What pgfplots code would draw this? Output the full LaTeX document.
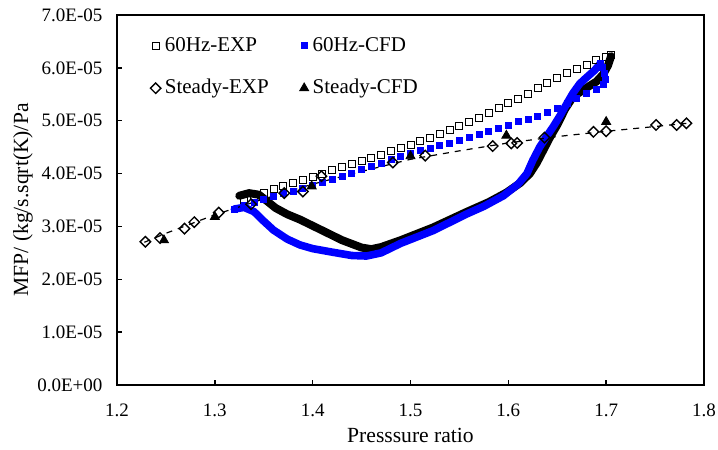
\documentclass[border=0pt]{standalone}
\usepackage{fontspec}
\setmainfont{Liberation Serif}
\usepackage{pgfplots}
\pgfplotsset{compat=1.18}
\begin{document}
\begin{tikzpicture}
\begin{axis}[
  scale only axis, width=293.5pt, height=185pt,
  xmin=1.2, xmax=1.8, ymin=0, ymax=7,
  xtick={1.2,1.3,1.4,1.5,1.6,1.7,1.8},
  xticklabels={1.2,1.3,1.4,1.5,1.6,1.7,1.8},
  ytick={0,1,2,3,4,5,6,7},
  yticklabels={0.0E+00,1.0E-05,2.0E-05,3.0E-05,4.0E-05,5.0E-05,6.0E-05,7.0E-05},
  tick pos=left, tick align=inside, major tick length=2.5pt,
  axis line style={line width=0.7pt},
  every tick/.style={black, line width=0.7pt},
  tick label style={font=\fontsize{9.5}{11}\selectfont},
  xticklabel style={yshift=-6pt},
  yticklabel style={xshift=-3.8pt},
  xlabel={Presssure ratio}, ylabel={MFP/ (kg/s.sqrt(K)/Pa},
  every axis x label/.style={at={(axis description cs:0.5,0)}, yshift=-25pt, anchor=center, font=\fontsize{10.8}{13}\selectfont},
  every axis y label/.style={at={(axis description cs:0,0.5)}, xshift=-47pt, rotate=90, anchor=center, font=\fontsize{10.8}{13}\selectfont},
  legend columns=2, legend cell align=left,
  legend image code/.code={\draw[#1] plot coordinates {(0pt,0pt)};},
  legend style={draw=none, fill=none, at={(rel axis cs:0,1)}, anchor=north west,
    xshift=16.5pt, yshift=-9pt, inner sep=0pt, row sep=8.5pt,
    font=\fontsize{10.5}{12}\selectfont,
    /tikz/every even column/.append style={column sep=13.5pt}},
]
\coordinate (ll) at (rel axis cs:0,0);
\coordinate (ur) at (rel axis cs:1,1);

% 60Hz-EXP lower (dense) branch
\addplot[black, line width=4pt, line join=round, line cap=round, forget plot] coordinates {
(1.705,6.22)(1.702,6.05)(1.697,5.88)(1.690,5.74)(1.678,5.60)(1.666,5.45)(1.658,5.22)
(1.650,4.92)(1.643,4.70)(1.636,4.45)(1.629,4.20)(1.622,4.00)(1.612,3.82)(1.598,3.64)
(1.580,3.46)(1.558,3.28)(1.523,2.98)(1.490,2.74)(1.470,2.61)(1.460,2.57)(1.450,2.60)
(1.430,2.74)(1.408,2.94)(1.387,3.13)(1.374,3.23)(1.362,3.35)(1.352,3.50)(1.345,3.60)
(1.335,3.63)(1.325,3.58)};
% 60Hz-EXP upper branch
\addplot[black, only marks, mark=square, mark size=1.75pt, mark options={line width=0.5pt}] coordinates {
(1.33,3.50)(1.34,3.57)(1.35,3.64)(1.36,3.70)(1.37,3.76)(1.38,3.82)(1.39,3.88)(1.40,3.94)
(1.41,4.00)(1.42,4.06)(1.43,4.12)(1.44,4.18)(1.45,4.24)(1.46,4.30)(1.47,4.36)(1.48,4.42)
(1.49,4.48)(1.50,4.54)(1.51,4.61)(1.52,4.68)(1.53,4.75)(1.54,4.83)(1.55,4.90)(1.56,4.98)
(1.57,5.06)(1.58,5.15)(1.59,5.24)(1.60,5.33)(1.61,5.42)(1.62,5.51)(1.63,5.61)(1.64,5.71)
(1.65,5.81)(1.66,5.90)(1.67,5.98)(1.68,6.06)(1.69,6.14)(1.70,6.21)(1.705,6.24)};
\addlegendentry{60Hz-EXP}

% 60Hz-CFD lower (dense) branch
\addplot[blue, line width=3.8pt, line join=round, line cap=round, forget plot] coordinates {
(1.694,6.08)(1.688,5.95)(1.680,5.82)(1.673,5.70)(1.666,5.52)(1.660,5.33)(1.653,5.10)
(1.646,4.89)(1.639,4.70)(1.632,4.50)(1.625,4.25)(1.619,4.00)(1.610,3.80)(1.595,3.58)
(1.575,3.38)(1.558,3.24)(1.523,2.92)(1.490,2.68)(1.470,2.50)(1.455,2.44)(1.440,2.45)
(1.421,2.51)(1.400,2.58)(1.387,2.65)(1.374,2.76)(1.360,2.93)(1.350,3.10)(1.340,3.28)
(1.330,3.36)(1.320,3.33)};
% 60Hz-CFD upper branch
\addplot[blue, only marks, mark=square*, mark size=1.5pt] coordinates {
(1.32,3.33)(1.33,3.39)(1.34,3.45)(1.35,3.51)(1.36,3.57)(1.37,3.62)(1.38,3.67)(1.39,3.72)
(1.40,3.78)(1.41,3.84)(1.42,3.89)(1.43,3.95)(1.44,4.01)(1.45,4.07)(1.46,4.13)(1.47,4.19)
(1.48,4.26)(1.49,4.33)(1.50,4.38)(1.51,4.43)(1.52,4.48)(1.53,4.53)(1.54,4.58)(1.55,4.63)
(1.56,4.68)(1.57,4.74)(1.58,4.80)(1.59,4.86)(1.60,4.92)(1.61,4.98)(1.62,5.03)(1.63,5.09)
(1.64,5.15)(1.65,5.23)(1.66,5.33)(1.67,5.43)(1.68,5.52)(1.69,5.60)
(1.697,5.68)(1.699,5.78)(1.698,5.90)(1.696,6.00)(1.694,6.08)};
\addlegendentry{60Hz-CFD}

% Steady-EXP trend line
\addplot[black, dashed, line width=0.6pt, forget plot] coordinates {
(1.228,2.70)(1.25,2.87)(1.30,3.22)(1.35,3.52)(1.40,3.80)(1.45,4.04)(1.50,4.27)
(1.55,4.43)(1.60,4.58)(1.65,4.70)(1.70,4.80)(1.75,4.89)(1.782,4.95)};
\addplot[black, only marks, mark=square, mark size=1.85pt, mark options={rotate=45, line width=0.7pt}] coordinates {
(1.229,2.71)(1.244,2.78)(1.269,2.96)(1.279,3.08)(1.304,3.26)(1.337,3.42)(1.371,3.63)
(1.390,3.66)(1.409,3.95)(1.482,4.21)(1.515,4.34)(1.584,4.52)(1.603,4.57)(1.609,4.58)
(1.637,4.68)(1.687,4.79)(1.700,4.80)(1.751,4.92)(1.772,4.92)(1.782,4.95)};
\addlegendentry{Steady-EXP}

\addplot[black, only marks, mark=triangle*, mark size=2.6pt] coordinates {
(1.248,2.74)(1.300,3.18)(1.399,3.76)(1.500,4.33)(1.598,4.72)(1.700,4.98)};
\addlegendentry{Steady-CFD}
\end{axis}
\pgfresetboundingbox
\path ([shift={(-58.5pt,-32.5pt)}]ll) rectangle ([shift={(7pt,7.5pt)}]ur);
\end{tikzpicture}
\end{document}
